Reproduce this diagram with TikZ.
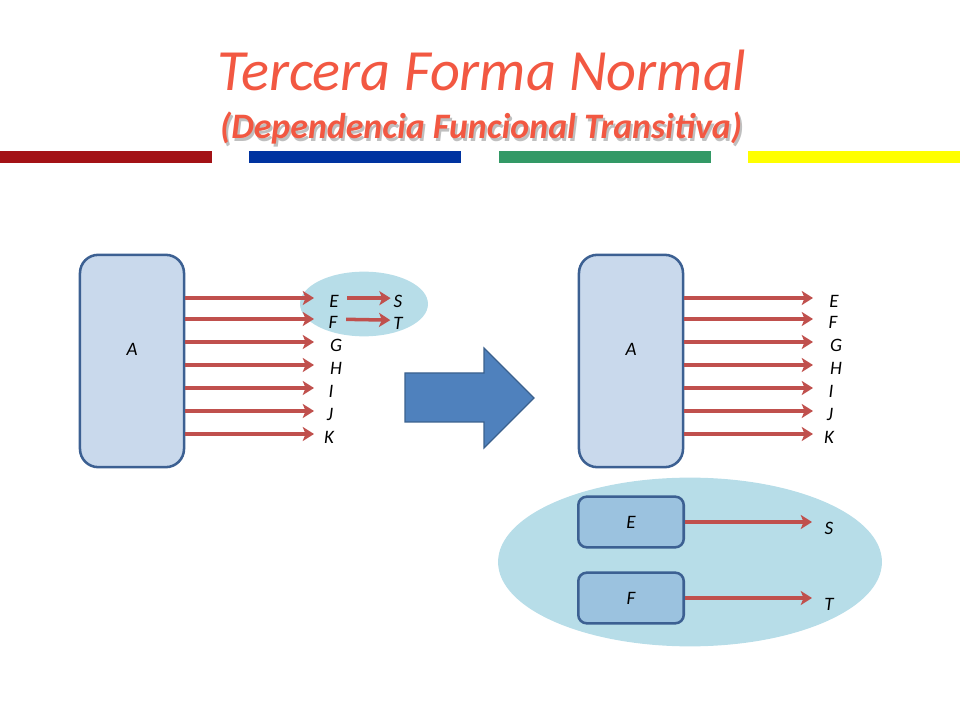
\documentclass[tikz,border=0pt]{standalone}
\usepackage{fontspec}
\setmainfont{Carlito}
\usetikzlibrary{arrows.meta,shapes.geometric,positioning}
\definecolor{titlered}{RGB}{242,88,66}
\definecolor{depred}{RGB}{192,80,77}
\definecolor{boxfill}{RGB}{201,217,236}
\definecolor{boxline}{RGB}{60,96,146}
\definecolor{keyfill}{RGB}{155,194,223}
\definecolor{ovalfill}{RGB}{183,221,232}
\definecolor{bigblue}{RGB}{79,129,189}
\definecolor{barred}{RGB}{163,18,22}
\definecolor{barblue}{RGB}{0,51,160}
\definecolor{bargreen}{RGB}{51,153,102}
\definecolor{baryellow}{RGB}{255,255,0}
\tikzset{
  attr/.style={font=\itshape\fontsize{13.5}{13.5}\selectfont,inner sep=0pt},
  attrbox/.style={draw=boxline,fill=boxfill,line width=1.8pt,rounded corners=13pt,
    minimum width=74pt,minimum height=151pt},
  keybox/.style={draw=boxline,fill=keyfill,line width=1.8pt,rounded corners=6pt,
    minimum width=75pt,minimum height=36pt,font=\itshape\fontsize{13.5}{13.5}\selectfont},
  oval/.style={ellipse,fill=ovalfill,inner sep=0pt},
  dep/.style={depred,line width=2.5pt,-{Stealth[length=8pt,width=10pt,inset=2pt]}},
}
\begin{document}
\begin{tikzpicture}[x=0.025cm,y=-0.025cm]
    \useasboundingbox (0,0) rectangle (960,720);
    % title
    \node[titlered,font=\itshape\fontsize{41.5}{41.5}\selectfont] (title) at (482,70) {Tercera Forma Normal};
    \node[black!25,font=\bfseries\itshape\fontsize{25.5}{25.5}\selectfont] at (483,131) {(Dependencia Funcional Transitiva)};
    \node[titlered,font=\bfseries\itshape\fontsize{25.5}{25.5}\selectfont] (subtitle) at (481,128) {(Dependencia Funcional Transitiva)};
    \foreach \c/\x in {barred/0,barblue/249,bargreen/499,baryellow/748}
        \fill[\c] (\x,151) rectangle ++(212,12);
    % left: before
    \node[oval,minimum width=91pt,minimum height=46pt] (trans) at (364,304) {};
    \node[attrbox,label={[attr,yshift=8.5pt]center:A}] (A1) at (132,361) {};
    \coordinate (tipL) at (314,0);
    \foreach \n/\x/\y in {E/334/298,F/333/319,G/336/342,H/336/365,I/331/388,J/330/411,K/329/434}{
        \coordinate (r\n) at (0,\y);
        \node[attr] (l\n) at (\x,\y+3) {\n};
        \draw[dep] (A1.east |- r\n) -- (tipL |- r\n);
    }
    \node[attr] (lS) at (398,301) {S};
    \node[attr] (lT) at (398,323) {T};
    \draw[dep,shorten <=6pt,shorten >=2pt] ([yshift=2pt]lE.east) -- ([yshift=2pt]lS.west);
    \draw[dep,shorten <=6pt,shorten >=2pt] ([yshift=2pt]lF.east) -- ([yshift=2pt]lT.west);
    % big arrow
    \filldraw[fill=bigblue,draw=bigblue!75!black,line width=0.8pt]
        (405,373) -- (484,373) -- (484,348) -- (534,398) -- (484,448) -- (484,422) -- (405,422) -- cycle;
    % right: after
    \node[attrbox,label={[attr,yshift=8.5pt]center:A}] (A2) at (631,361) {};
    \coordinate (tipR) at (813,0);
    \foreach \n/\x/\y in {E/834/298,F/833/319,G/836/342,H/836/365,I/831/388,J/830/411,K/829/434}{
        \coordinate (s\n) at (0,\y);
        \node[attr] (m\n) at (\x,\y+3) {\n};
        \draw[dep] (A2.east |- s\n) -- (tipR |- s\n);
    }
    \node[oval,minimum width=273pt,minimum height=120pt] (group) at (690,562) {};
    \node[keybox] (kE) at (631,522) {E};
    \node[keybox] (kF) at (631,598) {F};
    \node[attr] (nS) at (829,528) {S};
    \node[attr] (nT) at (829,604) {T};
    \coordinate (tipB) at (812,0);
    \draw[dep] (kE.east) -- (tipB |- kE.east);
    \draw[dep] (kF.east) -- (tipB |- kF.east);
\end{tikzpicture}
\end{document}
